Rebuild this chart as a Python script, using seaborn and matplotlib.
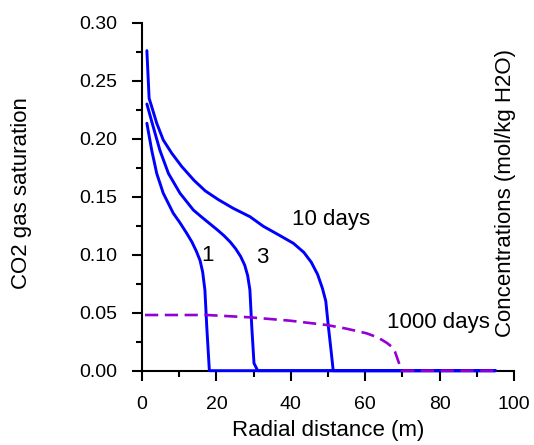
import matplotlib
matplotlib.use("Agg")
import matplotlib.pyplot as plt
import seaborn as sns
import pandas as pd
from matplotlib.ticker import MultipleLocator

# ---- data ----
x_1day = [1.3, 2.6, 3.95, 5.7, 8.4, 10.2, 12.0, 13.4, 14.6, 15.6, 16.3, 16.9, 17.4, 18.1, 95.0]
y_1day = [0.2133, 0.190, 0.170, 0.153, 0.1357, 0.1275, 0.1185, 0.1110, 0.1030, 0.0950, 0.0850, 0.0696, 0.038, 0.0, 0.0]

x_3day = [1.3, 3.0, 4.8, 7.1, 10.2, 13.8, 16.0, 18.3, 20.2, 22.0, 23.7, 25.2, 26.5, 27.6, 28.4, 29.0, 29.5, 30.1, 31.1, 95.0]
y_3day = [0.2299, 0.2103, 0.190, 0.170, 0.1530, 0.1385, 0.1325, 0.1265, 0.1215, 0.1165, 0.1110, 0.1050, 0.0985, 0.0910, 0.0820, 0.0696, 0.038, 0.0064, 0.0, 0.0]

x_10day = [1.3, 1.9, 2.6, 3.95, 5.7, 8.0, 10.7, 14.0, 17.0, 20.5, 24.5, 29.0, 32.6, 36.5, 40.7, 43.5, 45.5, 47.2, 48.5, 49.4, 50.1, 50.8, 51.4, 95.0]
y_10day = [0.2759, 0.2348, 0.2276, 0.2133, 0.1989, 0.1874, 0.1759, 0.1640, 0.1550, 0.1475, 0.1400, 0.1328, 0.1245, 0.1175, 0.1098, 0.1020, 0.0935, 0.0830, 0.0710, 0.0600, 0.0380, 0.0180, 0.0, 0.0]

x_1000day = [0.8, 17.4, 29.0, 39.8, 49.6, 55.0, 60.4, 63.5, 65.8, 67.2, 68.0, 69.8, 95.0]
y_1000day = [0.048, 0.048, 0.046, 0.0431, 0.0394, 0.0362, 0.0322, 0.0285, 0.0240, 0.0205, 0.0164, 0.0, 0.0]

curve_labels = ["1", "3", "10 days", "1000 days"]
label_pos_x = [17.7, 32.2, 40.2, 65.9]
label_pos_y = [0.099, 0.098, 0.130, 0.0414]

x_ticks = [0, 20, 40, 60, 80, 100]
y_ticks = [0.00, 0.05, 0.10, 0.15, 0.20, 0.25, 0.30]

sns.set_style("ticks")
plt.rcParams['font.family'] = ['Liberation Sans', 'DejaVu Sans']

fig = plt.figure(figsize=(5.34, 4.45), dpi=100)
ax = fig.add_axes([0.266, 0.167, 0.9625 - 0.266, 0.949 - 0.167])

blue = "#0000ff"
purple = "#9400d3"

for xs, ys in [(x_1day, y_1day), (x_3day, y_3day), (x_10day, y_10day)]:
    df = pd.DataFrame({"x": xs, "y": ys})
    sns.lineplot(data=df, x="x", y="y", ax=ax, color=blue, lw=2.1,
                 sort=False, estimator=None, clip_on=False, zorder=3)

df = pd.DataFrame({"x": x_1000day, "y": y_1000day})
l = sns.lineplot(data=df, x="x", y="y", ax=ax, color=purple, lw=1.9,
                 sort=False, estimator=None, clip_on=False, zorder=4)
l.lines[-1].set_dashes((5, 2.5))

for t, xx, yy in zip(curve_labels, label_pos_x, label_pos_y):
    ax.text(xx, yy, t, fontsize=16, ha="left" if len(t) > 1 else "center",
            va="center", color="black")

ax.set_xlim(0, 100)
ax.set_ylim(0, 0.30)
ax.set_xticks(x_ticks)
ax.set_yticks(y_ticks)
ax.set_yticklabels([f"{v:.2f}" for v in y_ticks])
ax.xaxis.set_minor_locator(MultipleLocator(10))
ax.yaxis.set_minor_locator(MultipleLocator(0.025))
ax.tick_params(which="major", length=7, width=1.5, pad=11, labelsize=14,
               direction="out", color="black", labelcolor="black")
ax.tick_params(which="minor", length=4.5, width=1.5, direction="out", color="black")
for s in ["left", "bottom"]:
    ax.spines[s].set_linewidth(1.5)
    ax.spines[s].set_color("black")
for s in ["top", "right"]:
    ax.spines[s].set_visible(False)

ax.set_xlabel("Radial distance (m)", fontsize=16, labelpad=5, color="black")
ax.set_ylabel("")
fig.text(22 / 534, 1 - 193 / 445, "CO2 gas saturation", rotation=90,
         ha="center", va="center", fontsize=16, color="black")
fig.text(506 / 534, 1 - 193 / 445, "Concentrations (mol/kg H2O)", rotation=90,
         ha="center", va="center", fontsize=16, color="black")

fig.savefig("out.png", dpi=100)
